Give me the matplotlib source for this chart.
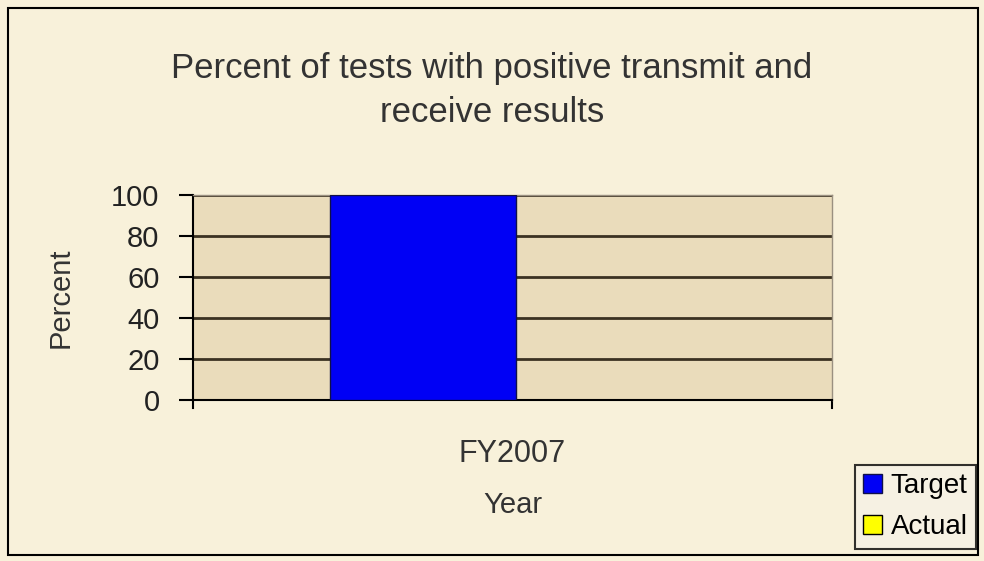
import matplotlib.pyplot as plt
from matplotlib.patches import Rectangle

# data
categories = ["FY2007"]
series_names = ["Target", "Actual"]
target = [100]
actual = [0]
yticks = [0, 20, 40, 60, 80, 100]

plt.rcParams["font.family"] = ["Liberation Sans", "DejaVu Sans"]

fig = plt.figure(figsize=(9.84, 5.61), dpi=100)
fig.patch.set_facecolor("#f8f1da")
ax = fig.add_axes([0.196, 0.287, 0.6495, 0.3654])
ax.set_facecolor("#eadcbb")

# single category, two clustered bars
w = 0.29
ax.bar([-0.14], target, width=w, color="#0000f5", edgecolor="#10104a",
       linewidth=1, label=series_names[0], zorder=3)
ax.bar([0.15], actual, width=w, color="#ffff00", edgecolor="black",
       linewidth=1, label=series_names[1], zorder=3)

ax.set_xlim(-0.5, 0.5)
ax.set_ylim(0, 100)
ax.set_yticks(yticks)
ax.set_yticklabels([str(v) for v in yticks], fontsize=21, color="#222222")
ax.set_xticks([0])
ax.set_xticklabels(categories, fontsize=22, color="#333333")
ax.tick_params(axis="x", length=0, pad=28)
ax.tick_params(axis="y", length=10, width=1.5, direction="out", pad=14)

# category boundary ticks on the x axis
for xb in (-0.5, 0.5):
    ax.plot([xb, xb], [0, -4], color="black", lw=1.5, clip_on=False)

ax.yaxis.grid(True, color="#3b3222", linewidth=2)
ax.set_axisbelow(True)
for s in ("top", "right"):
    ax.spines[s].set_color("#9a9080")
    ax.spines[s].set_linewidth(1)
for s in ("left", "bottom"):
    ax.spines[s].set_color("black")
    ax.spines[s].set_linewidth(1.5)

ax.set_ylabel("Percent", fontsize=21, color="#333333", labelpad=26)
ax.set_xlabel("Year", fontsize=21, color="#333333", labelpad=16)

fig.text(0.5, 0.838, "Percent of tests with positive transmit and\nreceive results",
         ha="center", va="center", fontsize=25, color="#333333",
         linespacing=1.43)

leg = fig.legend(loc="lower right", bbox_to_anchor=(0.992, 0.022),
                 fontsize=20, frameon=True, fancybox=False,
                 handlelength=0.7, handleheight=0.7, handletextpad=0.3,
                 borderpad=0.3, labelspacing=0.55, borderaxespad=0)
leg.get_frame().set_edgecolor("black")
leg.get_frame().set_linewidth(1.5)
leg.get_frame().set_facecolor("#f6f2e6")

# outer chart border
fig.patches.append(Rectangle((0.008, 0.01), 0.986, 0.976, transform=fig.transFigure,
                             fill=False, edgecolor="black", linewidth=1.5))

fig.savefig("out.png", dpi=100, facecolor=fig.get_facecolor())
